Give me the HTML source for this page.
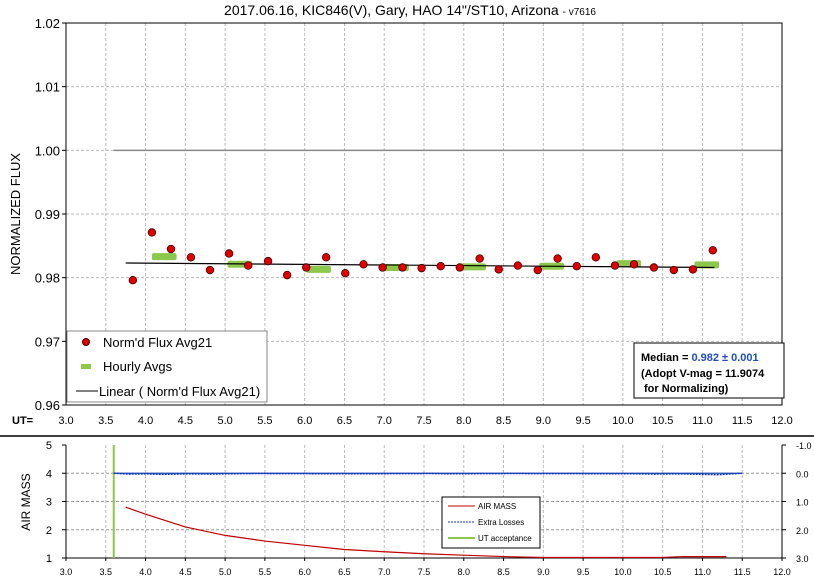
<!DOCTYPE html>
<html><head><meta charset="utf-8"><style>
body{margin:0;background:#fff;width:814px;height:583px;overflow:hidden;font-family:"Liberation Sans",Arial,sans-serif}
svg text{font-family:"Liberation Sans",Arial,sans-serif}
</style></head><body>
<svg id="chart" width="814" height="583" viewBox="0 0 814 583" xmlns="http://www.w3.org/2000/svg">
<text x="410" y="15" text-anchor="middle" font-size="14">2017.06.16, KIC846(V), Gary, HAO 14"/ST10, Arizona <tspan font-size="10">- v7616</tspan></text>
<g id="main"></g>
<g id="sub"></g>
</svg>
<script>
const fluxUT=[3.84,4.08,4.32,4.57,4.81,5.05,5.29,5.54,5.78,6.02,6.27,6.51,6.74,6.98,7.23,7.47,7.71,7.95,8.20,8.44,8.68,8.93,9.18,9.42,9.66,9.90,10.14,10.39,10.64,10.88,11.13];
const fluxVal=[0.9796,0.9871,0.9845,0.9832,0.9812,0.9838,0.9819,0.9826,0.9804,0.9816,0.9832,0.9807,0.9821,0.9816,0.9816,0.9815,0.9818,0.9816,0.9830,0.9813,0.9819,0.9812,0.9830,0.9818,0.9832,0.9819,0.9821,0.9816,0.9812,0.9813,0.9843];
const hourStart=[4.08,5.03,6.02,7.0,7.97,8.95,9.92,10.9];
const hourVal=[0.9833,0.9821,0.9813,0.9816,0.9817,0.9818,0.9822,0.9820];
const trendUT=[3.75,11.15];
const trendVal=[0.9823,0.9816];
const yTicks=["0.96","0.97","0.98","0.99","1.00","1.01","1.02"];
const xTicks=["3.0","3.5","4.0","4.5","5.0","5.5","6.0","6.5","7.0","7.5","8.0","8.5","9.0","9.5","10.0","10.5","11.0","11.5","12.0"];
const airUT=[3.75,4.0,4.5,5.0,5.5,6.0,6.5,7.0,7.5,8.0,8.5,9.0,9.5,10.0,10.5,10.75,11.0,11.3];
const airVal=[2.8,2.55,2.1,1.8,1.6,1.45,1.3,1.22,1.15,1.1,1.05,1.02,1.02,1.02,1.02,1.05,1.05,1.05];
const lossUT=[3.6,3.8,4.0,4.2,4.4,4.6,4.8,5.0,5.4,6.6,7.6,7.8,8.6,10.2,10.4,10.7,11.0,11.2,11.5];
const lossVal=[0,0.03,0.02,0.04,0.03,0.02,0.03,0.02,0.01,0.02,0.01,0.02,0.01,0.02,0.03,0.02,0.04,0.05,0];
const airTicks=["1","2","3","4","5"];
const lossTicks=["3.0","2.0","1.0","0.0","-1.0"];

const NS="http://www.w3.org/2000/svg";
function mk(p,t,a){const e=document.createElementNS(NS,t);for(const k in a)e.setAttribute(k,a[k]);p.appendChild(e);return e;}
const L=66,R=782;
const X=u=>L+(u-3)/9*(R-L);
const T=23,B=405;
const Y=v=>B-(v-0.96)/0.06*(B-T);
const m=document.getElementById('main');
xTicks.forEach((t,i)=>{const x=X(+t);
 if(i>0&&i<xTicks.length-1){const g=mk(m,'line',{x1:x,x2:x,y1:T,y2:B,stroke:'#bbb','stroke-dasharray':'3,2'});}
 const tx=mk(m,'text',{x:x,y:424,'text-anchor':'middle','font-size':11});tx.textContent=t;
 
});
yTicks.forEach((t,i)=>{const y=Y(+t);
 if(i>0&&i<yTicks.length-1){const g=mk(m,'line',{x1:L,x2:R,y1:y,y2:y,stroke:'#bbb','stroke-dasharray':'3,2'});}
 mk(m,'line',{x1:L-4,x2:L,y1:y,y2:y,stroke:'#000'});
 const tx=mk(m,'text',{x:L-6,y:y+5,'text-anchor':'end','font-size':13});tx.textContent=t;
 
});
const ut=mk(m,'text',{x:12,y:424,'font-size':11,'font-weight':'bold'});ut.textContent='UT=';

const yt=mk(m,'text',{x:20,y:214,'text-anchor':'middle','font-size':13,transform:'rotate(-90 20 214)'});yt.textContent='NORMALIZED FLUX';

const ref=mk(m,'line',{x1:X(3.6),x2:X(12),y1:Y(1),y2:Y(1),stroke:'#888','stroke-width':1.5});

const fr=mk(m,'rect',{x:L,y:T,width:R-L,height:B-T,fill:'none',stroke:'#000'});

hourStart.forEach((s,i)=>{const r=mk(m,'rect',{x:X(s),y:Y(hourVal[i])-3.5,width:X(s+0.31)-X(s),height:7,rx:2,fill:'#8cc84b'});
 });
const tl=mk(m,'line',{x1:X(trendUT[0]),x2:X(trendUT[1]),y1:Y(trendVal[0]),y2:Y(trendVal[1]),stroke:'#000','stroke-width':1.2});

fluxUT.forEach((u,i)=>{const c=mk(m,'circle',{cx:X(u),cy:Y(fluxVal[i]),r:3.8,fill:'#e00000',stroke:'#400',"stroke-width":0.8});
 });
const lg=mk(m,'g',{});
mk(lg,'rect',{x:67,y:331,width:200,height:71,fill:'#fff',stroke:'#888'});
mk(lg,'circle',{cx:86,cy:342,r:3.5,fill:'#e00000',stroke:'#400'});
let t1=mk(lg,'text',{x:103,y:347,'font-size':13});t1.textContent="Norm'd Flux Avg21";
mk(lg,'rect',{x:81,y:364,width:10,height:5,fill:'#8cc84b'});
let t2=mk(lg,'text',{x:103,y:371,'font-size':13});t2.textContent='Hourly Avgs';
mk(lg,'line',{x1:76,x2:98,y1:391,y2:391,stroke:'#000'});
let t3=mk(lg,'text',{x:99,y:396,'font-size':13});t3.textContent="Linear ( Norm'd Flux Avg21)";
const mb=mk(m,'g',{});
mk(mb,'rect',{x:634,y:343,width:150,height:55,fill:'#fff',stroke:'#000'});
let m1=mk(mb,'text',{x:641,y:361,'font-size':11,'font-weight':'bold'});m1.innerHTML='Median = <tspan fill="#1f4fbf">0.982 ± 0.001</tspan>';
let m2=mk(mb,'text',{x:641,y:377,'font-size':11,'font-weight':'bold'});m2.textContent='(Adopt V-mag = 11.9074';
let m3=mk(mb,'text',{x:644,y:392,'font-size':11,'font-weight':'bold'});m3.textContent='for Normalizing)';
const sp=mk(m,'line',{x1:0,x2:814,y1:436,y2:436,stroke:'#000','stroke-width':1.5});


const s=document.getElementById('sub');
const T2=445,B2=558;
const Y2=v=>B2-(v-1)/4*(B2-T2);
const Y3=v=>T2+(v+1)/4*(B2-T2);
xTicks.forEach((t,i)=>{const x=X(+t);
 if(i>0&&i<xTicks.length-1){const g=mk(s,'line',{x1:x,x2:x,y1:T2,y2:B2,stroke:'#bbb','stroke-dasharray':'3,2'});}
 mk(s,'line',{x1:x,x2:x,y1:B2,y2:B2+3,stroke:'#000'});
 const tx=mk(s,'text',{x:x,y:575,'text-anchor':'middle','font-size':9});tx.textContent=t;
 
});
airTicks.forEach((t,i)=>{const y=Y2(+t);
 if(i>0&&i<airTicks.length-1){const g=mk(s,'line',{x1:L,x2:R,y1:y,y2:y,stroke:'#999','stroke-dasharray':'3,2'});}
 mk(s,'line',{x1:L-4,x2:L,y1:y,y2:y,stroke:'#000'});
 const tx=mk(s,'text',{x:L-14,y:y+4,'text-anchor':'end','font-size':11});tx.textContent=t;
 
});
lossTicks.forEach((t)=>{const y=Y3(+t);
 mk(s,'line',{x1:R,x2:R+4,y1:y,y2:y,stroke:'#000'});
 const tx=mk(s,'text',{x:796,y:y+4,'font-size':9});tx.textContent=t;
 
});
const at=mk(s,'text',{x:30,y:502,'text-anchor':'middle','font-size':12,transform:'rotate(-90 30 502)'});at.textContent='AIR MASS';

mk(s,'line',{x1:L,x2:L,y1:T2,y2:B2,stroke:'#000'});
mk(s,'line',{x1:R,x2:R,y1:T2,y2:B2,stroke:'#000'});
mk(s,'line',{x1:L,x2:R,y1:B2,y2:B2,stroke:'#000'});
const ua=mk(s,'line',{x1:X(3.6),x2:X(3.6),y1:T2,y2:B2,stroke:'#8cc84b','stroke-width':2});

const bl=mk(s,'line',{x1:X(3.6),x2:X(11.5),y1:Y3(0),y2:Y3(0),stroke:'#2050b0','stroke-width':1.2});

const el=mk(s,'polyline',{points:lossUT.map((u,i)=>X(u)+','+Y3(lossVal[i])).join(' '),fill:'none',stroke:'#1030c0','stroke-dasharray':'2,1','stroke-width':1.5});

const am=mk(s,'polyline',{points:airUT.map((u,i)=>X(u)+','+Y2(airVal[i])).join(' '),fill:'none',stroke:'#c00000','stroke-width':1.2});

const lg2=mk(s,'g',{});
mk(lg2,'rect',{x:442,y:497,width:98,height:51,fill:'#fff',stroke:'#000'});
mk(lg2,'line',{x1:448,x2:475,y1:506,y2:506,stroke:'#c00000'});
let l1=mk(lg2,'text',{x:478,y:509,'font-size':8});l1.textContent='AIR MASS';
mk(lg2,'line',{x1:448,x2:475,y1:522,y2:522,stroke:'#1030c0','stroke-dasharray':'2,1'});
let l2=mk(lg2,'text',{x:478,y:525,'font-size':8});l2.textContent='Extra Losses';
mk(lg2,'line',{x1:448,x2:475,y1:538,y2:538,stroke:'#8cc84b','stroke-width':2});
let l3=mk(lg2,'text',{x:478,y:541,'font-size':8});l3.textContent='UT acceptance';
</script>
</body></html>
